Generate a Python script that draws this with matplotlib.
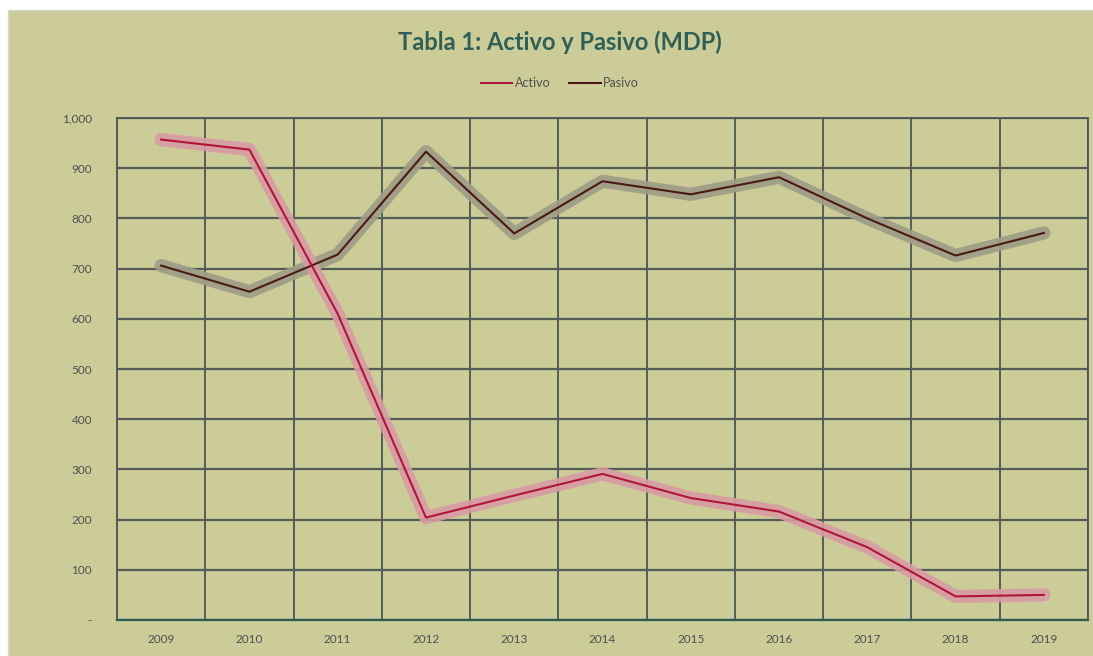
import numpy as np
import matplotlib
matplotlib.use("Agg")
import matplotlib.pyplot as plt
from matplotlib.patches import Rectangle
from matplotlib.ticker import FixedLocator, FuncFormatter

years = ["2009", "2010", "2011", "2012", "2013", "2014", "2015", "2016", "2017", "2018", "2019"]
activo = [957, 937, 610, 204, 248, 291, 243, 216, 145, 47, 50]
pasivo = [706, 654, 728, 933, 770, 874, 848, 882, 800, 726, 771]
y_ticks = [0, 100, 200, 300, 400, 500, 600, 700, 800, 900, 1000]

bg = "#cccc99"
plt.rcParams['font.family'] = ['Lato', 'DejaVu Sans']

fig = plt.figure(figsize=(10.93, 6.56), dpi=100)
fig.patch.set_facecolor("white")
# chart area fill (white strip left and top)
fig.patches.append(Rectangle((8 / 1093, 0), 1, 1 - 10 / 656, transform=fig.transFigure,
                             facecolor=bg, edgecolor="#d8d8c8", lw=1, zorder=-10))

ax = fig.add_axes([117 / 1093, 1 - 620 / 656, 971 / 1093, 502 / 656])
ax.set_facecolor(bg)

x = np.arange(len(years))

# soft glow under each line
ax.plot(x, activo, color="#d89aa2", lw=9.5, alpha=0.9, solid_capstyle="round", zorder=3)
ax.plot(x, activo, color="#b0163a", lw=1.5, zorder=5, label="Activo")
ax.plot(x, pasivo, color="#9e9c86", lw=9.5, alpha=0.9, solid_capstyle="round", zorder=2)
ax.plot(x, pasivo, color="#4a1a14", lw=1.5, zorder=4, label="Pasivo")

ax.set_xlim(-0.5, len(years) - 0.5)
ax.set_ylim(0, 1000)

ax.set_xticks(x)
ax.set_xticklabels(years)
ax.xaxis.set_minor_locator(FixedLocator(np.arange(-0.5, len(years), 1)))
ax.set_yticks(y_ticks)
ax.yaxis.set_major_formatter(FuncFormatter(lambda v, p: "-" if v == 0 else f"{int(v):,}"))

ax.grid(which="minor", axis="x", color="#4a5656", lw=1.3)
ax.grid(which="major", axis="y", color="#545c58", lw=1.6)
ax.set_axisbelow(True)

ax.tick_params(axis="both", which="both", length=0, labelsize=8.5, colors="#505050")
ax.tick_params(axis="x", pad=10)
ax.tick_params(axis="y", pad=18)

for side in ["top", "right", "left"]:
    ax.spines[side].set_color("#4a5656")
    ax.spines[side].set_linewidth(1.3)
ax.spines["bottom"].set_color("#2e5e50")
ax.spines["bottom"].set_linewidth(1.6)

fig.text(560 / 1093, 1 - 42 / 656, "Tabla 1: Activo y Pasivo (MDP)", ha="center", va="center",
         fontsize=17, fontweight="bold", color="#2f5f55")

leg = ax.legend(loc="center", bbox_to_anchor=(560 / 1093, 1 - 83 / 656),
                bbox_transform=fig.transFigure, ncol=2, frameon=False, fontsize=9,
                handlelength=2.5, handletextpad=0.2, columnspacing=1.5)
for t in leg.get_texts():
    t.set_color("#505050")

fig.savefig("out.png", dpi=100, facecolor=fig.get_facecolor())
